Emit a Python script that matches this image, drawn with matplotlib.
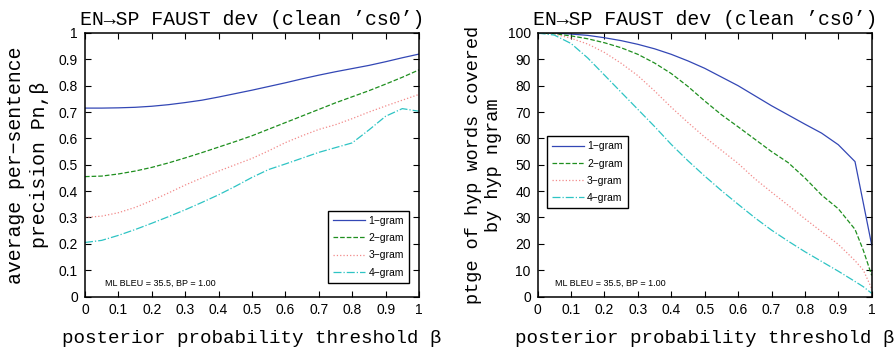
import matplotlib
matplotlib.use("Agg")
import matplotlib.pyplot as plt
import numpy as np

# posterior probability thresholds
beta = [0, .05, .1, .15, .2, .25, .3, .35, .4, .45, .5,
        .55, .6, .65, .7, .75, .8, .85, .9, .95, 1.0]

# left panel: average per-sentence precision
prec_1 = [0.715, 0.715, 0.716, 0.718, 0.722, 0.728, 0.736, 0.745, 0.757, 0.770, 0.783,
          0.797, 0.811, 0.826, 0.840, 0.853, 0.865, 0.877, 0.891, 0.906, 0.920]
prec_2 = [0.455, 0.457, 0.465, 0.476, 0.490, 0.507, 0.526, 0.546, 0.567, 0.588, 0.610,
          0.635, 0.660, 0.685, 0.710, 0.735, 0.758, 0.781, 0.806, 0.832, 0.860]
prec_3 = [0.300, 0.305, 0.318, 0.338, 0.364, 0.393, 0.423, 0.450, 0.476, 0.500, 0.524,
          0.553, 0.584, 0.610, 0.634, 0.652, 0.675, 0.700, 0.723, 0.745, 0.767]
prec_4 = [0.205, 0.213, 0.232, 0.254, 0.278, 0.303, 0.329, 0.357, 0.386, 0.418, 0.452,
          0.482, 0.503, 0.525, 0.547, 0.565, 0.583, 0.632, 0.684, 0.713, 0.703]

# right panel: percentage of hyp words covered by hyp ngram
beta_r = [0, .05, .1, .15, .2, .25, .3, .35, .4, .45, .5,
          .55, .6, .65, .7, .75, .8, .85, .9, .95, .975, 1.0]
cov_1 = [100, 100, 99.6, 99.1, 98.2, 97.1, 95.7, 94.0, 91.9, 89.4, 86.6,
         83.3, 80.0, 76.2, 72.4, 68.9, 65.4, 62.0, 57.6, 51.2, 35.4, 19.5]
cov_2 = [100, 99.7, 98.9, 97.8, 96.3, 94.4, 91.9, 88.6, 84.6, 79.7, 74.2,
         69.0, 64.4, 59.7, 55.0, 50.8, 45.0, 38.5, 33.3, 25.5, 17.5, 8.0]
cov_3 = [100, 99.6, 98.0, 95.8, 92.6, 88.5, 83.8, 78.0, 71.8, 66.0, 60.5,
         55.5, 50.5, 44.7, 39.6, 34.6, 29.5, 24.6, 19.8, 13.6, 10.0, 3.0]
cov_4 = [100, 99.2, 96.0, 90.5, 84.0, 77.5, 71.0, 64.5, 57.7, 51.5, 45.7,
         40.2, 35.0, 29.9, 25.2, 21.0, 17.0, 13.3, 9.6, 5.7, 3.7, 1.2]

labels = ['1\u2212gram', '2\u2212gram', '3\u2212gram', '4\u2212gram']
colors = ['#3347b5', '#1f8f1f', '#f28a8a', '#2ec4c4']
styles = ['-', '--', ':', '-.']

mono = ['Liberation Mono', 'DejaVu Sans Mono']
sans = 'Liberation Sans'
title = 'EN\u2192SP FAUST dev (clean \u2019cs0\u2019)'

fig = plt.figure(figsize=(8.95, 3.52), dpi=100)
ax1 = fig.add_axes([85 / 895, 55.5 / 352, 334 / 895, 263.5 / 352])
ax2 = fig.add_axes([537.7 / 895, 55.5 / 352, 334 / 895, 263.5 / 352])


def style_axes(ax, ymax, ystep):
    ax.set_xlim(0, 1)
    ax.set_ylim(0, ymax)
    ax.set_xticks(np.arange(0, 1.01, 0.1))
    ax.set_yticks(np.arange(0, ymax + ystep / 2, ystep))
    ax.xaxis.set_major_formatter(plt.FuncFormatter(lambda v, p: '%g' % round(v, 2)))
    ax.yaxis.set_major_formatter(plt.FuncFormatter(lambda v, p: '%g' % round(v, 2)))
    ax.tick_params(direction='in', length=4, width=0.8, top=True, right=True,
                   labelsize=10, pad=5)
    for lab in ax.get_xticklabels() + ax.get_yticklabels():
        lab.set_fontfamily(sans)
    for sp in ax.spines.values():
        sp.set_linewidth(1.1)
    ax.set_title(title, fontfamily=mono, fontsize=14.3, pad=6)
    ax.set_xlabel('posterior probability threshold \u03b2', fontfamily=mono,
                  fontsize=13.8, labelpad=9)


def add_legend(ax, loc, anchor):
    leg = ax.legend(loc=loc, bbox_to_anchor=anchor, prop={'family': sans, 'size': 7.5},
                    handlelength=3.0, handletextpad=0.35, labelspacing=0.7,
                    borderpad=0.5, borderaxespad=0, fancybox=False, framealpha=1,
                    edgecolor='black')
    leg.get_frame().set_linewidth(1.0)


# left panel
for y, c, ls, lab in zip([prec_1, prec_2, prec_3, prec_4], colors, styles, labels):
    ax1.plot(beta, y, color=c, linestyle=ls, linewidth=0.9, label=lab)
style_axes(ax1, 1, 0.1)
ax1.set_ylabel('average per\u2212sentence\nprecision Pn,\u03b2', fontfamily=mono,
               fontsize=14.3, labelpad=7, linespacing=1.3)
ax1.text(0.06, 0.049, 'ML BLEU = 35.5, BP = 1.00', fontfamily=sans, fontsize=6.5,
         va='center')
add_legend(ax1, 'lower right', (0.970, 0.052))

# right panel
for y, c, ls, lab in zip([cov_1, cov_2, cov_3, cov_4], colors, styles, labels):
    ax2.plot(beta_r, y, color=c, linestyle=ls, linewidth=0.9, label=lab)
style_axes(ax2, 100, 10)
ax2.set_ylabel('ptge of hyp words covered\nby hyp ngram', fontfamily=mono,
               fontsize=13.4, labelpad=4, linespacing=1.25)
ax2.text(0.052, 4.9, 'ML BLEU = 35.5, BP = 1.00', fontfamily=sans, fontsize=6.5,
         va='center')
add_legend(ax2, 'upper left', (0.028, 0.609))

fig.savefig('out.png', dpi=100)
